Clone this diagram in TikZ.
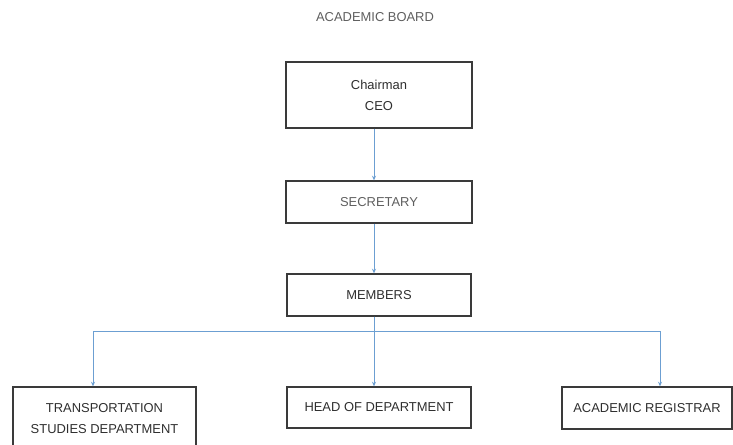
\documentclass[tikz,border=0pt]{standalone}
\usepackage{fontspec}
\setmainfont{Liberation Sans}
\usetikzlibrary{arrows.meta}
\definecolor{boxline}{HTML}{3A3A3A}
\definecolor{linkblue}{HTML}{6C9FD2}
\definecolor{txt}{HTML}{2E2E2E}
\definecolor{txtlight}{HTML}{5E5E5E}
\begin{document}
\begin{tikzpicture}[x=0.75pt,y=-0.75pt,
  box/.style={draw=boxline,line width=0.9pt,inner sep=0pt,align=center,
    text=txt,font=\fontsize{9.7}{15.8}\selectfont},
  link/.style={draw=linkblue,line width=0.75pt,-{Stealth[length=3.5pt,width=3pt]}}]
\useasboundingbox (0,0) rectangle (733,445);
% title
\node[text=txtlight,font=\fontsize{9.7}{12}\selectfont] (title) at (375,17) {ACADEMIC BOARD};
% hierarchy boxes
\node[box,minimum width=139.5pt,minimum height=49.5pt] (chair) at (379,95) {Chairman\\CEO};
\node[box,text=txtlight,minimum width=139.5pt,minimum height=31.5pt] (sec) at (379,202) {SECRETARY};
\node[box,minimum width=138pt,minimum height=31.5pt] (mem) at (379,295) {MEMBERS};
\node[box,minimum width=137.25pt,minimum height=47.25pt] (trans) at (104.5,418.5) {TRANSPORTATION\\STUDIES DEPARTMENT};
\node[box,minimum width=138pt,minimum height=30.75pt] (hod) at (379,407.5) {HEAD OF DEPARTMENT};
\node[box,minimum width=127.5pt,minimum height=31.5pt] (reg) at (647,408) {ACADEMIC REGISTRAR};
% connector guides
\coordinate (spine) at (374,0);
\coordinate (bus) at (0,332);
\coordinate (dropL) at (93,0);
\coordinate (dropR) at (660,0);
% connectors
\draw[link] (chair.south -| spine) -- (sec.north -| spine);
\draw[link] (sec.south -| spine) -- (mem.north -| spine);
\draw[link] (mem.south -| spine) -- (hod.north -| spine);
\draw[link] (mem.south -| spine) |- (dropL |- bus) -- (trans.north -| dropL);
\draw[link] (mem.south -| spine) |- (dropR |- bus) -- (reg.north -| dropR);
\end{tikzpicture}
\end{document}
